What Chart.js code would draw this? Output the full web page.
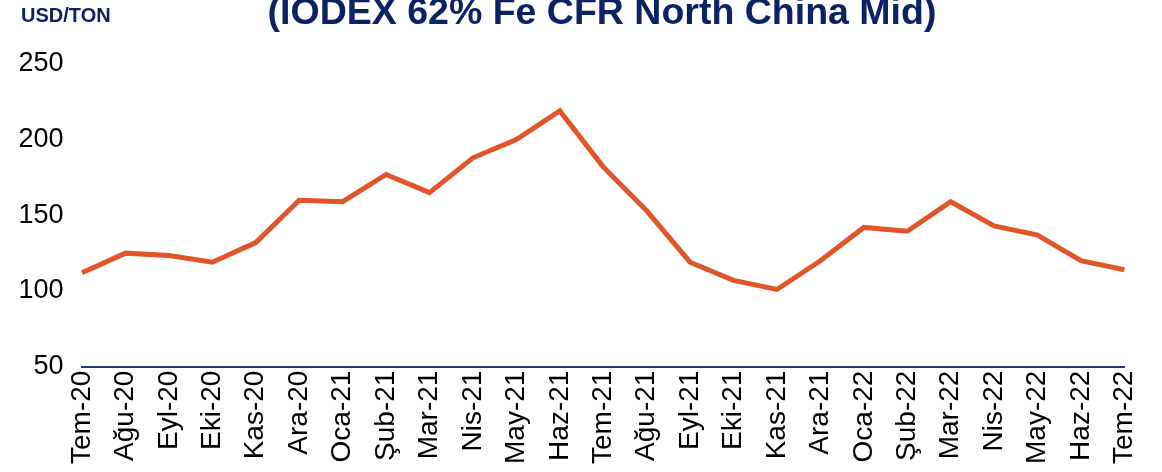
<!DOCTYPE html>
<html>
<head>
<meta charset="utf-8">
<script src="https://cdn.jsdelivr.net/npm/chart.js@4"></script>
<style>
  html, body { margin: 0; padding: 0; background: #fff; }
  #wrap { width: 1162px; height: 472px; position: relative; }
</style>
</head>
<body>
<div id="wrap"><canvas id="myChart"></canvas></div>
<script>
const aylar = [
    "Tem-20", "Ağu-20", "Eyl-20", "Eki-20", "Kas-20", "Ara-20",
    "Oca-21", "Şub-21", "Mar-21", "Nis-21", "May-21", "Haz-21",
    "Tem-21", "Ağu-21", "Eyl-21", "Eki-21", "Kas-21", "Ara-21",
    "Oca-22", "Şub-22", "Mar-22", "Nis-22", "May-22", "Haz-22", "Tem-22"
];
const fiyatlar = [
    112, 125, 123.5, 119, 132, 160,
    159, 177, 165, 188, 200, 219,
    182, 153, 119, 107, 101, 120,
    142, 139.5, 159, 143, 137, 120, 114
];
const yTicks = [50, 100, 150, 200, 250];

const baslik = "(IODEX 62% Fe CFR North China Mid)";
const birim = "USD/TON";

const lineColor = "#E0562A";
const navy = "#0B2265";
const fontName = "'Liberation Sans', Arial, sans-serif";

// title and unit are drawn by hand, the top of the title is cut off
const basliklar = {
    id: "basliklar",
    afterDraw(chart) {
        const ctx = chart.ctx;
        ctx.save();
        ctx.fillStyle = navy;
        ctx.textBaseline = "alphabetic";
        ctx.font = "bold 20px " + fontName;
        ctx.textAlign = "left";
        ctx.fillText(birim, 21, 22);
        ctx.font = "bold 37.5px " + fontName;
        ctx.textAlign = "center";
        ctx.fillText(baslik, 602, 24);
        ctx.restore();
    }
};

const ctx = document.getElementById("myChart");

new Chart(ctx, {
    type: "line",
    data: {
        labels: aylar,
        datasets: [
            {
                data: fiyatlar,
                borderColor: lineColor,
                backgroundColor: lineColor,
                borderWidth: 5,
                pointRadius: 0,
                tension: 0,
                borderJoinStyle: "miter",
            },
        ],
    },
    options: {
        responsive: true,
        maintainAspectRatio: false,
        animation: false,
        layout: {
            padding: { top: 64, right: 28, left: 0, bottom: 4 },
        },
        scales: {
            x: {
                offset: false,
                grid: { display: false, drawTicks: false },
                border: { display: true, color: "#1F3A7A", width: 2 },
                ticks: {
                    autoSkip: false,
                    maxRotation: 90,
                    minRotation: 90,
                    padding: 4,
                    color: "#000",
                    font: { family: fontName, size: 28 },
                },
            },
            y: {
                min: 50,
                max: 250,
                afterBuildTicks: (axis) => {
                    axis.ticks = yTicks.map((v) => ({ value: v }));
                },
                grid: { display: false, drawTicks: false },
                border: { display: false },
                ticks: {
                    padding: 18.5,
                    color: "#000",
                    font: { family: fontName, size: 27 },
                },
            },
        },
        plugins: {
            legend: { display: false },
            tooltip: { enabled: false },
        },
    },
    plugins: [basliklar],
});
</script>
</body>
</html>
